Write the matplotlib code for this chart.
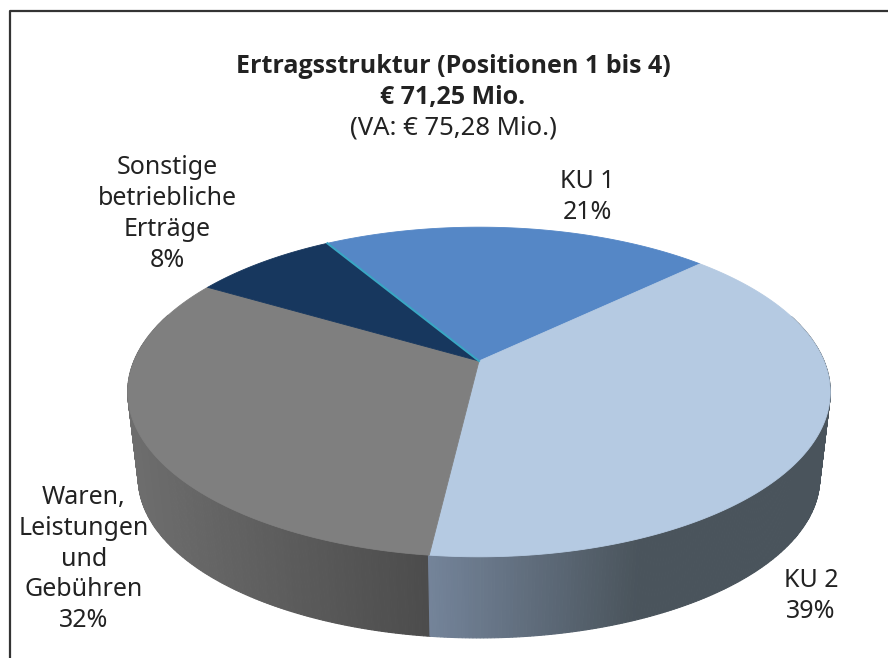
# Ertragsstruktur - 3D Kreisdiagramm (mit Perspektive)
import numpy as np
import matplotlib
matplotlib.use("Agg")
import matplotlib.pyplot as plt

# Daten
labels = ["KU 1", "KU 2", "Waren,\nLeistungen\nund\nGebühren", "Sonstige\nbetriebliche\nErträge"]
values = [21.4, 39.0, 31.6, 8.0]
title_bold = "Ertragsstruktur (Positionen 1 bis 4)\n€ 71,25 Mio."
title_sub = "(VA: € 75,28 Mio.)"

top_colors = ["#5587c6", "#b5cae2", "#7f7f7f", "#17375e"]
# Seitenflaeche: Farbe links/rechts je Segment
side_stops = {1: ("#74849a", "#4a545c"), 2: ("#6e6e6e", "#4c4c4c")}

label_pos = [(587, 197), (811, 596), (84, 559), (167, 214)]

plt.rcParams["font.family"] = ["Noto Sans", "DejaVu Sans"]

fig = plt.figure(figsize=(8.88, 6.58), dpi=100)
ax = fig.add_axes([0, 0, 1, 1])
ax.set_xlim(0, 888)
ax.set_ylim(658, 0)
ax.axis("off")

# Rahmen (rechts und unten abgeschnitten)
ax.plot([10, 10, 888], [658, 11, 11], color="#333333", lw=1.6)

# Perspektive der Scheibe
cx, cy = 479, 361
a, b, k = 345, 159, 0.188
depth, shrink = 87, 0.97
start = -30.7


def ring(theta, scale=1.0, dy=0.0):
    t = np.radians(theta)
    u, v = np.sin(t), -np.cos(t)
    d = 1 - k * v
    return cx + scale * a * u / d, cy + dy + scale * b * v / d


def hex2rgb(c):
    return np.array(matplotlib.colors.to_rgb(c))


# Segmentgrenzen aus den Werten
edges = start + np.cumsum([0] + values) * 360 / sum(values)

# Seitenflaechen, von hinten nach vorne
strips = []
for i, val in enumerate(values):
    if i not in side_stops:
        continue
    th = np.arange(edges[i], edges[i + 1] + 0.5, 0.5)
    for t0, t1 in zip(th[:-1], th[1:]):
        if -np.cos(np.radians(t0)) < -0.3:   # Rueckseite ist nicht sichtbar
            continue
        x0, y0 = ring(t0)
        x1, y1 = ring(t1)
        x2, y2 = ring(t1, shrink, depth)
        x3, y3 = ring(t0, shrink, depth)
        left, right = side_stops[i]
        xm = (x0 + x1) / 2
        f = (xm - 127) / (428 - 127) if i == 2 else (xm - 428) / (640 - 428)
        f = np.clip(f, 0, 1)
        col = hex2rgb(left) * (1 - f) + hex2rgb(right) * f
        strips.append((y0, [x0, x1, x2, x3], [y0, y1, y2, y3], col))

for _, px, py, col in sorted(strips, key=lambda s: s[0]):
    ax.fill(px, py, color=col, lw=0.8)

# Deckflaeche
for i, val in enumerate(values):
    th = np.linspace(edges[i], edges[i + 1], 200)
    x, y = ring(th)
    ax.fill(np.r_[cx, x], np.r_[cy, y], color=top_colors[i], lw=0.6)

# schmale tuerkise Linie zwischen Sonstige und KU 1
x, y = ring(start)
ax.plot([cx, x], [cy, y], color="#3aa6c4", lw=1.5)

# Titel
ax.text(453, 82, title_bold, ha="center", va="center", fontsize=18, fontweight="bold",
        family="Open Sans", color="#222222", linespacing=1.27)
ax.text(453, 128, title_sub, ha="center", va="center", fontsize=18.5, color="#222222")

# Beschriftungen
for lab, val, pos in zip(labels, values, label_pos):
    ax.text(pos[0], pos[1], f"{lab}\n{val:.0f}%", ha="center", va="center", fontsize=18,
            color="#222222", linespacing=1.31)

fig.savefig("out.png", dpi=100)
